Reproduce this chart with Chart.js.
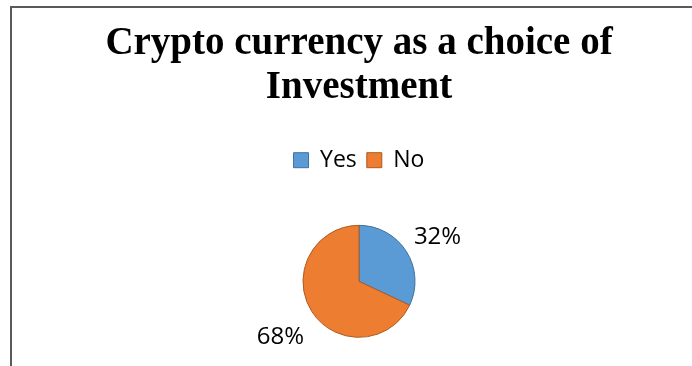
<!DOCTYPE html>
<html lang="en">
<head>
  <meta charset="UTF-8">
  <meta name="viewport" content="width=device-width, initial-scale=1.0">
  <title>Crypto currency as a choice of Investment</title>
  <style>
    html, body { margin: 0; padding: 0; background: #fff; overflow: hidden; }
    #marco {
      position: absolute;
      left: 10px;
      top: 6px;
      right: 0;
      bottom: 0;
      border-top: 2px solid #5a5a5a;
      border-left: 2px solid #5a5a5a;
    }
    #grafico { position: absolute; left: 0; top: 0; }
  </style>
</head>
<body>

  <div id="marco"></div>
  <canvas id="grafico" width="692" height="366"></canvas>

  <script src="https://cdn.jsdelivr.net/npm/chart.js"></script>

  <script>
    // Datos de la encuesta
    const respuestas = ['Yes', 'No'];
    const porcentajes = [32, 68];
    const colores = ['#5B9BD5', '#ED7D31'];
    const bordes = ['#41719C', '#AE5A21'];

    // Etiquetas de porcentaje fuera de cada sector
    const etiquetasFuera = {
      id: 'etiquetasFuera',
      afterDatasetsDraw(chart, args, opts) {
        const ctx = chart.ctx;
        const meta = chart.getDatasetMeta(0);
        const valores = chart.data.datasets[0].data;
        const total = valores.reduce((a, b) => a + b, 0);
        ctx.save();
        ctx.font = opts.font;
        ctx.fillStyle = opts.color;
        ctx.textAlign = 'center';
        ctx.textBaseline = 'middle';
        meta.data.forEach((arco, i) => {
          const p = arco.getProps(['x', 'y', 'startAngle', 'endAngle', 'outerRadius'], true);
          const medio = (p.startAngle + p.endAngle) / 2;
          const d = p.outerRadius + opts.distancia;
          const x = p.x + Math.cos(medio) * d;
          const y = p.y + Math.sin(medio) * d + opts.bajar;
          ctx.fillText(Math.round(valores[i] / total * 100) + '%', x, y);
        });
        ctx.restore();
      }
    };

    // Espacio extra debajo de la leyenda
    const margenLeyenda = {
      id: 'margenLeyenda',
      beforeInit(chart) {
        const fitOriginal = chart.legend.fit;
        chart.legend.fit = function () {
          fitOriginal.bind(chart.legend)();
          this.height += 21;
        };
      }
    };

    const grafico = new Chart(document.getElementById('grafico'), {
      type: 'pie',
      data: {
        labels: respuestas,
        datasets: [{
          data: porcentajes,
          backgroundColor: colores,
          borderColor: bordes,
          borderWidth: 1
        }]
      },
      options: {
        responsive: false,
        animation: false,
        radius: 56,
        layout: {
          padding: { left: 26, right: 0, top: 0, bottom: 6 }
        },
        plugins: {
          title: {
            display: true,
            text: ['Crypto currency as a choice of', 'Investment'],
            color: '#000',
            font: { family: 'Liberation Serif', size: 39, weight: 'bold', lineHeight: 1.15 },
            padding: { top: 21, bottom: 28 }
          },
          legend: {
            position: 'top',
            labels: {
              color: '#000',
              font: { family: 'Open Sans', size: 23 },
              boxWidth: 15,
              boxHeight: 15,
              padding: 10
            }
          },
          tooltip: { enabled: false },
          etiquetasFuera: {
            font: '24px "Open Sans"',
            color: '#000',
            distancia: 37,
            bajar: 6
          }
        }
      },
      plugins: [etiquetasFuera, margenLeyenda]
    });
  </script>
</body>
</html>
